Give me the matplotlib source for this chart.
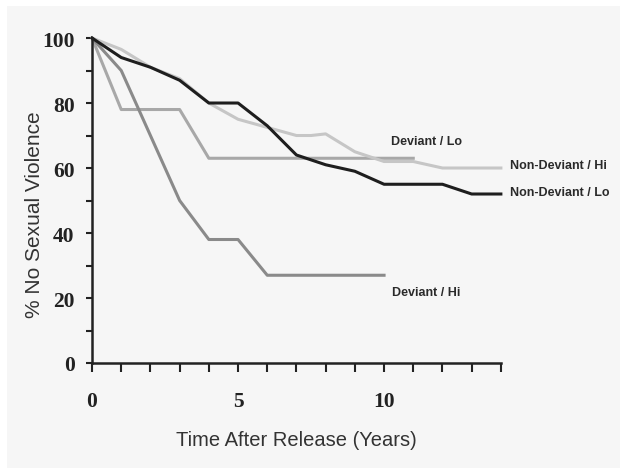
import matplotlib.pyplot as plt
from matplotlib.patches import Rectangle

# survival curves (years after release, % with no sexual violence)
years_nd_lo = [0, 1, 2, 3, 4, 5, 6, 7, 8, 9, 10, 11, 12, 13, 14]
nd_lo = [100, 94, 91, 87, 80, 80, 73, 64, 61, 59, 55, 55, 55, 52, 52]

years_nd_hi = [0, 1, 2, 3, 4, 5, 6, 7, 7.5, 8, 9, 10, 11, 12, 13, 14]
nd_hi = [100, 96.5, 91, 87.5, 80, 75, 72.5, 70, 70, 70.5, 65, 62, 62, 60, 60, 60]

years_d_lo = [0, 1, 2, 3, 4, 5, 6, 7, 8, 9, 10, 11]
d_lo = [100, 78, 78, 78, 63, 63, 63, 63, 63, 63, 63, 63]

years_d_hi = [0, 1, 2, 3, 4, 5, 6, 7, 8, 9, 10]
d_hi = [100, 90, 70, 50, 38, 38, 27, 27, 27, 27, 27]

fig = plt.figure(figsize=(6.29, 4.77), dpi=100)
fig.patch.set_facecolor('white')
fig.patches.append(Rectangle((0.011, 0.017), 0.975, 0.969, transform=fig.transFigure,
                             facecolor='#f6f6f6', edgecolor='none', zorder=-10))

ax = fig.add_axes([0.1463, 0.2369, 0.650, 0.6813])
ax.set_facecolor('none')

ax.plot(years_d_lo, d_lo, color='#a8a8a8', lw=2.2, clip_on=False)
ax.plot(years_nd_hi, nd_hi, color='#c6c6c6', lw=2.2, clip_on=False)
ax.plot(years_d_hi, d_hi, color='#8a8a8a', lw=2.2, clip_on=False)
ax.plot(years_nd_lo, nd_lo, color='#1e1e1e', lw=2.2, clip_on=False)

ax.set_xlim(0, 14)
ax.set_ylim(0, 100)
ax.spines['top'].set_visible(False)
ax.spines['right'].set_visible(False)
for s in ['left', 'bottom']:
    ax.spines[s].set_linewidth(1.8)
    ax.spines[s].set_color('#222222')

ax.set_xticks(range(0, 15))
ax.set_xticklabels(['0', '', '', '', '', '5', '', '', '', '', '10', '', '', '', ''])
ax.set_yticks(range(0, 101, 10))
ax.set_yticklabels(['0', '', '20', '', '40', '', '60', '', '80', '', '100'])
ax.tick_params(axis='x', direction='out', length=6.5, width=1.5, pad=14, color='#222222')
ax.tick_params(axis='y', direction='out', length=4.5, width=1.5, pad=8, color='#222222')
for lab in ax.get_xticklabels() + ax.get_yticklabels():
    lab.set_fontfamily('Liberation Serif')
    lab.set_fontweight('bold')
    lab.set_fontsize(15.5)
    lab.set_color('#222222')

ax.set_xlabel('Time After Release (Years)', family='Liberation Sans', fontsize=14.5,
              color='#333333', labelpad=13)
ax.set_ylabel('% No Sexual Violence', family='Liberation Sans', fontsize=15,
              color='#333333')
ax.yaxis.set_label_coords(-0.118, 0.46)

lab_font = dict(family='Liberation Sans', fontweight='bold',
                fontsize=9, color='#2a2a2a', va='center', ha='left')
ax.text(10.24, 68.3, 'Deviant / Lo', **lab_font)
ax.text(14.32, 60.9, 'Non-Deviant / Hi', clip_on=False, **lab_font)
ax.text(14.32, 52.6, 'Non-Deviant / Lo', clip_on=False, **lab_font)
ax.text(10.27, 21.8, 'Deviant / Hi', **lab_font)

fig.savefig('out.png', dpi=100, facecolor=fig.get_facecolor())
